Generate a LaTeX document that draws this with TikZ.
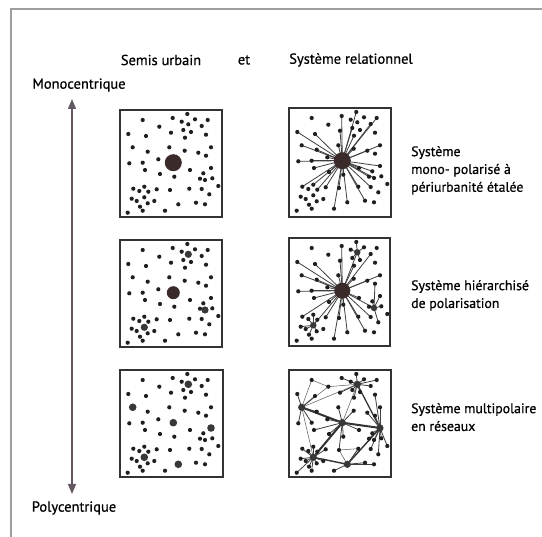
\documentclass[tikz,border=0pt]{standalone}
\usepackage{fontspec}
\setmainfont{PT Sans}[FakeBold=0.6]
\newfontfamily\labelfont{PT Sans}[FakeBold=0.6]
\usetikzlibrary{arrows.meta}

% scatter of settlements shared by all six squares (box-local coordinates)
\def\dotlist{67.3/4, 22.7/10, 52.7/8, 61.7/11.7, 75/9.3, 87.7/10, 68.3/14.3, 81.7/16,
 39.3/16.7, 63.3/20, 51/22.7, 71/22, 8.3/24, 26/26, 86/24.7, 65/27.7, 12.7/37.3,
 49.3/37.3, 91/37.3, 27.7/41.7, 64.7/40.7, 78.3/42.7, 86/45.7, 38.3/49.3, 53.3/52.7,
 9.3/53.3, 22.7/52.7, 91/58, 25/60, 70/60, 83.3/63.3, 40/64, 54.3/66.7, 80/68.7,
 85/70, 92.3/68.3, 98.3/76, 13.3/78.7, 24.3/76.7, 19.3/81, 28.3/81.7, 36.7/79.3,
 50/80, 69.3/78.7, 81.7/79, 89.3/84.3, 24.3/87.3, 11.7/88.7, 16.7/91, 34.3/91,
 27.7/93.3, 20/96.7, 76/92.7, 58.3/94.3, 85/94.3, 22.7/100.7, 45/100.7, 7.7/102.7}

\newcommand\seedpoints[1]{%
  \foreach \x/\y [count=\i] in \dotlist {\coordinate (#1-\i) at (\x,\y);}}
\newcommand\drawpoints[1]{%
  \foreach \i in {1,...,58} {\fill[dotc] (#1-\i) circle (2.1);}}
\newcommand\spokes[3]{%
  \foreach \j in {#3} {\draw[spoke] (#1-#2) -- (#1-\j);}}

\tikzset{
  dotc/.style={fill=black!88},
  hubdot/.style={fill=black!78},
  bigdot/.style={fill={rgb,255:red,58;green,42;blue,42}},
  spoke/.style={draw=black!75, line width=0.8pt},
  link/.style={draw=black!80, line width=2pt},
  thinlink/.style={draw=black!60, line width=0.55pt},
  panel/.style={draw=black!80, line width=1.4pt},
  label/.style={font=\labelfont\fontsize{14.5}{18}\selectfont, text=black, inner sep=0pt},
  desc/.style={font=\labelfont\fontsize{13.8}{17.8}\selectfont, text=black, inner sep=0pt,
    anchor=north west, align=left},
  axisarrow/.style={draw={rgb,255:red,100;green,86;blue,98}, line width=1.6pt,
    {Triangle[width=8pt,length=10pt]}-{Triangle[width=8pt,length=10pt]}},
}

\begin{document}
\begin{tikzpicture}[x=1pt,y=-1pt]
\useasboundingbox (0,0) rectangle (542,537);
\clip (0,0) rectangle (542,537);
\fill[white] (0,0) rectangle (542,537);
% page frame (top and left edges)
\draw[draw=black!38, line width=2.5pt] (11,540) -- (11,9) -- (545,9);

% headings
\node[label] (hsemis) at (161,60) {Semis urbain};
\node[label] (het) at (244,60) {et};
\node[label] (hrel) at (351,60) {Système relationnel};
\node[label] (hmono) at (79,85) {Monocentrique};
\node[label] (hpoly) at (74,508) {Polycentrique};

% vertical axis
\coordinate (axtop) at (72,99);
\coordinate (axbot) at (72,494);
\draw[axisarrow] (axbot) -- (axtop);

% ---------- row 1 ----------
\begin{scope}[shift={(120,110)}]
  \draw[panel] (0,0) rectangle (102,107);
  \seedpoints{a}
  \drawpoints{a}
  \fill[bigdot] (a-25) circle (8.5);
\end{scope}
\begin{scope}[shift={(289,108)}]
  \draw[panel] (0,0) rectangle (102,109);
  \seedpoints{b}
  \spokes{b}{25}{1,3,6,8,10,11,13,14,16,17,18,19,20,21,22,24,26,27,28,29,30,31,32,33,34,35,38,39,41,42,43,44,45,53,54,57}
  \drawpoints{b}
  \fill[bigdot] (b-25) circle (8.5);
\end{scope}

% ---------- row 2 ----------
\begin{scope}[shift={(120,240)}]
  \draw[panel] (0,0) rectangle (102,107);
  \seedpoints{c}
  \drawpoints{c}
  \fill[bigdot] (c-25) circle (6.5);
  \foreach \h in {7,35,47} {\fill[hubdot] (c-\h) circle (3.6);}
\end{scope}
\begin{scope}[shift={(289,238)}]
  \draw[panel] (0,0) rectangle (101,108);
  \seedpoints{d}
  \spokes{d}{25}{3,7,8,11,13,14,16,17,18,19,20,21,22,24,26,27,29,30,32,33,35,38,42,43,44,45,47,53,54,57}
  \spokes{d}{7}{1,4,5,10,12}
  \spokes{d}{35}{23,28,31,34,36,46}
  \spokes{d}{47}{39,40,41,48,49,51,52}
  \drawpoints{d}
  \foreach \h in {7,35,47} {\fill[hubdot] (d-\h) circle (3.2);}
  \fill[bigdot] (d-25) circle (8);
\end{scope}

% ---------- row 3 ----------
\begin{scope}[shift={(120,370)}]
  \draw[panel] (0,0) rectangle (103,107);
  \seedpoints{e}
  \drawpoints{e}
  \foreach \h in {7,17,25,28,47,54} {\fill[hubdot] (e-\h) circle (3.8);}
\end{scope}
\begin{scope}[shift={(289,370)}]
  \draw[panel] (0,0) rectangle (102,107);
  \seedpoints{f}
  % links between poles
  \draw[link] (f-17) -- (f-25) -- (f-28);
  \draw[link] (f-47) -- (f-25);
  \draw[link, line width=1.4pt] (f-47) -- (f-54) -- (f-28);
  \draw[link, line width=1.3pt] (f-7) -- (f-28);
  \draw[thinlink] (f-17) -- (f-7);
  \draw[thinlink] (f-17) -- (f-9);
  \draw[thinlink] (f-2) -- (f-17);
  \draw[thinlink] (f-2) -- (f-9) -- (f-7);
  \draw[thinlink] (f-17) -- (f-47);
  \draw[thinlink] (f-7) -- (f-25);
  \draw[thinlink] (f-43) -- (f-44) -- (f-54) -- cycle;
  % local spokes
  \spokes{f}{7}{1,3,4,5,6,8,10,11,12,16}
  \spokes{f}{17}{13,14,20,26,27}
  \spokes{f}{25}{18,21,24,29,30,32,33,43}
  \spokes{f}{28}{15,19,22,23,31,34,35,36,37,45,46}
  \spokes{f}{47}{38,39,40,41,42,48,49,50,51,52,56,58}
  \spokes{f}{54}{44,53,55,57}
  \drawpoints{f}
  \foreach \h in {7,17,25,28,47,54} {\fill[hubdot] (f-\h) circle (3.6);}
\end{scope}

% descriptions
\node[desc] (desc1) at (411,146) {Système\\mono- polarisé à\\périurbanité étalée};
\node[desc] (desc2) at (411,280) {Système hiérarchisé\\de polarisation};
\node[desc] (desc3) at (411,403) {Système multipolaire\\en réseaux};
\end{tikzpicture}
\end{document}
